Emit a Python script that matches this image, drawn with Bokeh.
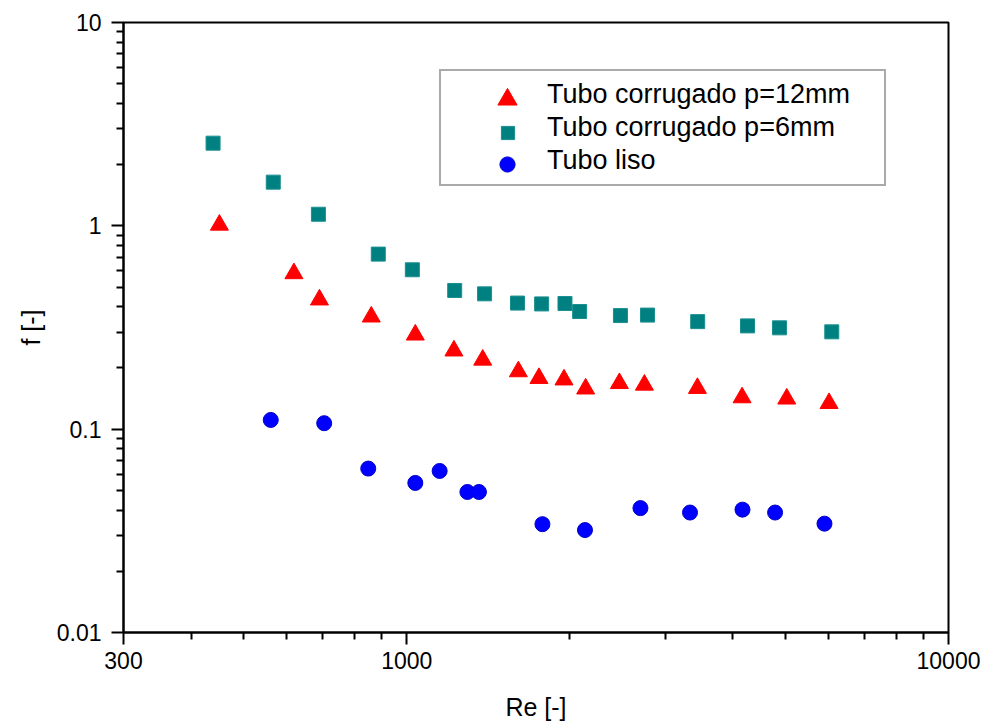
from bokeh.plotting import figure
from bokeh.models import Range1d, FixedTicker, Legend, LegendItem
from bokeh.embed import file_html
from bokeh.resources import INLINE

# ---- data ----
re_p12 = [451, 619, 690, 860, 1037, 1222, 1381, 1607, 1754, 1951, 2139, 2469, 2746, 3440, 4159, 5028, 6019]
f_p12 = [1.01, 0.583, 0.433, 0.357, 0.291, 0.243, 0.219, 0.192, 0.178, 0.175, 0.158, 0.168, 0.165, 0.159, 0.143, 0.141, 0.134]

re_p6 = [439, 567, 687, 886, 1024, 1226, 1392, 1601, 1774, 1959, 2085, 2480, 2782, 3444, 4256, 4875, 6089]
f_p6 = [2.55, 1.64, 1.14, 0.726, 0.608, 0.481, 0.463, 0.417, 0.413, 0.415, 0.379, 0.362, 0.364, 0.338, 0.322, 0.315, 0.301]

re_liso = [561, 704, 849, 1037, 1150, 1294, 1359, 1780, 2133, 2700, 3333, 4166, 4785, 5903]
f_liso = [0.111, 0.107, 0.064, 0.0544, 0.0623, 0.0491, 0.0491, 0.0341, 0.0319, 0.0409, 0.0389, 0.0402, 0.0389, 0.0343]

labels = ["Tubo corrugado p=12mm", "Tubo corrugado p=6mm", "Tubo liso"]

x_major = [300, 1000, 10000]
x_minor = [400, 500, 600, 700, 800, 900, 2000, 3000, 4000, 5000, 6000, 7000, 8000, 9000]
y_major = [0.01, 0.1, 1, 10]
y_minor = [0.02, 0.03, 0.04, 0.05, 0.06, 0.07, 0.08, 0.09,
           0.2, 0.3, 0.4, 0.5, 0.6, 0.7, 0.8, 0.9,
           2, 3, 4, 5, 6, 7, 8, 9]
x_tick_labels = {300: "300", 1000: "1000", 10000: "10000"}
y_tick_labels = {0.01: "0.01", 0.1: "0.1", 1: "1", 10: "10"}

FONT = "Liberation Sans"
FRAME_L, FRAME_T, FRAME_W, FRAME_H = 123, 22, 825, 610
FRAME_B = FRAME_T + FRAME_H

p = figure(
    x_axis_type="log", y_axis_type="log",
    x_range=Range1d(300, 10000), y_range=Range1d(0.01, 10),
    frame_width=FRAME_W, frame_height=FRAME_H,
    min_border_left=FRAME_L, min_border_right=36, min_border_top=FRAME_T, min_border_bottom=92,
    output_backend="svg", toolbar_location=None,
    background_fill_color="white", border_fill_color="white",
)
p.grid.visible = False
p.outline_line_color = "black"
p.outline_line_width = 2

for ax in (p.xaxis[0], p.yaxis[0]):
    ax.axis_line_width = 2
    ax.axis_line_color = "black"
    ax.major_tick_line_width = 2
    ax.minor_tick_line_width = 2
    ax.major_tick_line_color = "black"
    ax.minor_tick_line_color = "black"
    ax.major_tick_in = 0
    ax.major_tick_out = 12
    ax.minor_tick_in = 0
    ax.minor_tick_out = 7
    ax.major_label_text_font = FONT
    ax.major_label_text_font_size = "23px"
    ax.major_label_text_color = "black"
    ax.axis_label_text_font = FONT
    ax.axis_label_text_font_size = "25px"
    ax.axis_label_text_font_style = "normal"
    ax.axis_label_text_color = "black"

p.xaxis.ticker = FixedTicker(ticks=x_major, minor_ticks=x_minor)
p.yaxis.ticker = FixedTicker(ticks=y_major, minor_ticks=y_minor)
p.xaxis.major_label_overrides = x_tick_labels
p.yaxis.major_label_overrides = y_tick_labels
p.xaxis.axis_label = "Re [-]"
p.yaxis.axis_label = "f [-]"
p.xaxis.major_label_standoff = 7
p.yaxis.major_label_standoff = 10
p.xaxis.axis_label_standoff = 21
p.yaxis.axis_label_standoff = 9

r_p12 = p.scatter(re_p12, f_p12, marker="triangle", size=18,
                  fill_color="#ff0000", line_color="#ff0000", line_width=1)
r_p6 = p.scatter(re_p6, f_p6, marker="square", size=14,
                 fill_color="#008080", line_color="#1a8f8f", line_width=1)
r_liso = p.scatter(re_liso, f_liso, marker="circle", size=15,
                   fill_color="#0000ff", line_color="#0000cc", line_width=1)

# Legend box with the labels (no glyphs drawn here)
box_left, box_bottom = 439, 186
legend_box = Legend(
    items=[LegendItem(label=labels[0], renderers=[]),
           LegendItem(label=labels[1], renderers=[]),
           LegendItem(label=labels[2], renderers=[])],
    location=(box_left - FRAME_L, FRAME_B - box_bottom),
    padding=7, spacing=0,
    glyph_width=0, glyph_height=33, label_height=33,
    label_standoff=99, label_width=330,
    label_text_font=FONT, label_text_font_size="27px", label_text_color="black",
    border_line_color="#555555", border_line_width=2,
    background_fill_color="white", background_fill_alpha=1,
)
p.add_layout(legend_box)

# Legend glyph keys, one small borderless legend per series so sizes differ
key_x = 507
for rend, cy, box in ((r_p12, 99, 48), (r_p6, 132, 33), (r_liso, 164, 38)):
    lg = Legend(
        items=[LegendItem(label=" ", renderers=[rend])],
        location=(key_x - box / 2 - FRAME_L, FRAME_B - (cy + box / 2)),
        padding=0, spacing=0, margin=0,
        glyph_width=box, glyph_height=box, label_height=box,
        label_standoff=0, label_width=0,
        label_text_font_size="1px",
        border_line_alpha=0, background_fill_alpha=0,
    )
    p.add_layout(lg)

open("out.html", "w").write(file_html(p, INLINE))
